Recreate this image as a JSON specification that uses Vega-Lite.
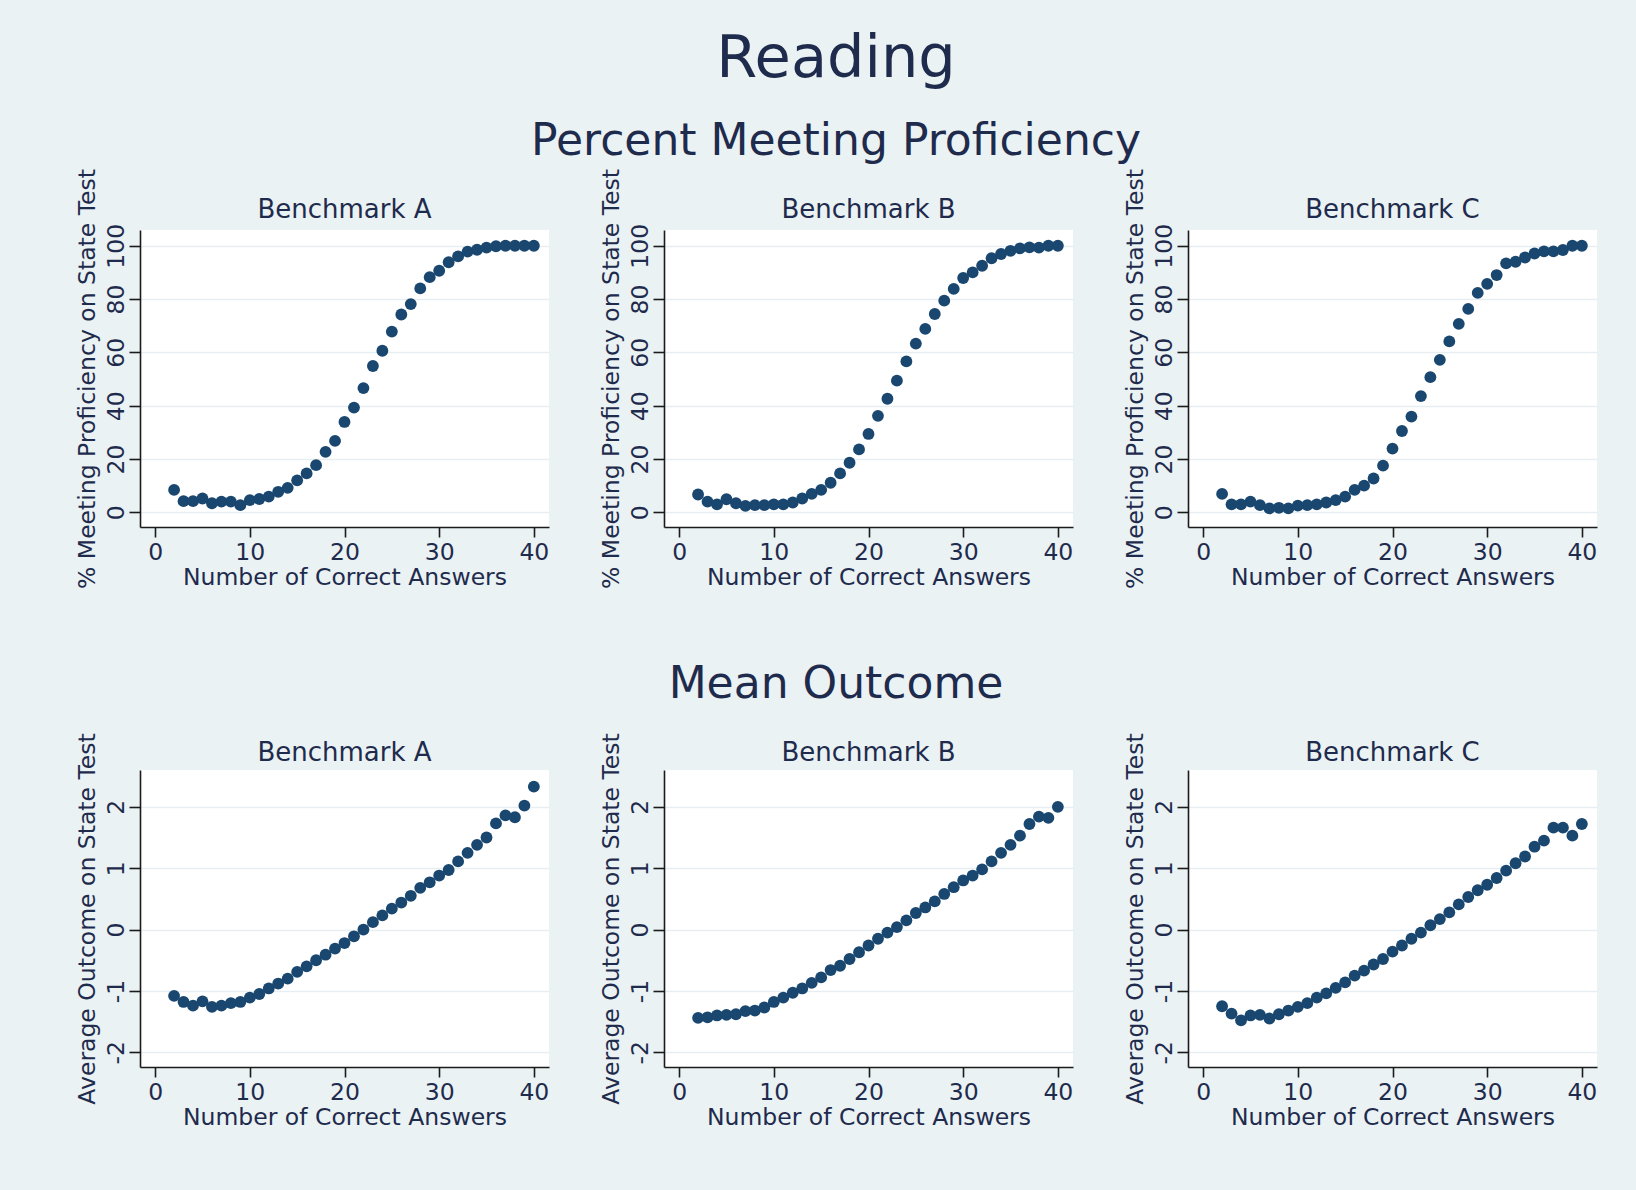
{
  "$schema": "https://vega.github.io/schema/vega-lite/v6.json",
  "background": "#EAF2F3",
  "padding": {"left": 74, "top": 29, "right": 42, "bottom": 79},
  "title": {"text": "Reading", "fontSize": 59, "font": "DejaVu Sans", "fontWeight": "normal", "color": "#1f2b4d", "offset": 31, "anchor": "middle"},
  "datasets": {
    "pctA": [
      {"x": 2, "y": 8.4}, {"x": 3, "y": 4.2}, {"x": 4, "y": 4.2}, {"x": 5, "y": 5.2}, {"x": 6, "y": 3.4}, {"x": 7, "y": 4.0}, {"x": 8, "y": 4.0}, {"x": 9, "y": 2.7}, {"x": 10, "y": 4.6}, {"x": 11, "y": 5.0},
      {"x": 12, "y": 5.9}, {"x": 13, "y": 7.7}, {"x": 14, "y": 9.2}, {"x": 15, "y": 12.0}, {"x": 16, "y": 14.6}, {"x": 17, "y": 17.7}, {"x": 18, "y": 22.7}, {"x": 19, "y": 26.8}, {"x": 20, "y": 33.9}, {"x": 21, "y": 39.3},
      {"x": 22, "y": 46.6}, {"x": 23, "y": 54.9}, {"x": 24, "y": 60.6}, {"x": 25, "y": 67.8}, {"x": 26, "y": 74.2}, {"x": 27, "y": 78.1}, {"x": 28, "y": 84.0}, {"x": 29, "y": 88.2}, {"x": 30, "y": 90.6}, {"x": 31, "y": 93.8},
      {"x": 32, "y": 96.0}, {"x": 33, "y": 97.8}, {"x": 34, "y": 98.5}, {"x": 35, "y": 99.3}, {"x": 36, "y": 99.8}, {"x": 37, "y": 100}, {"x": 38, "y": 100}, {"x": 39, "y": 100}, {"x": 40, "y": 100}
    ],
    "pctB": [
      {"x": 2, "y": 6.7}, {"x": 3, "y": 4.0}, {"x": 4, "y": 3.0}, {"x": 5, "y": 4.9}, {"x": 6, "y": 3.4}, {"x": 7, "y": 2.4}, {"x": 8, "y": 2.7}, {"x": 9, "y": 2.7}, {"x": 10, "y": 3.0}, {"x": 11, "y": 3.0},
      {"x": 12, "y": 3.7}, {"x": 13, "y": 5.2}, {"x": 14, "y": 6.9}, {"x": 15, "y": 8.4}, {"x": 16, "y": 11.1}, {"x": 17, "y": 14.6}, {"x": 18, "y": 18.6}, {"x": 19, "y": 23.6}, {"x": 20, "y": 29.4}, {"x": 21, "y": 36.2},
      {"x": 22, "y": 42.6}, {"x": 23, "y": 49.4}, {"x": 24, "y": 56.6}, {"x": 25, "y": 63.3}, {"x": 26, "y": 68.8}, {"x": 27, "y": 74.4}, {"x": 28, "y": 79.4}, {"x": 29, "y": 83.8}, {"x": 30, "y": 87.9}, {"x": 31, "y": 90.0},
      {"x": 32, "y": 92.5}, {"x": 33, "y": 95.3}, {"x": 34, "y": 96.9}, {"x": 35, "y": 98.1}, {"x": 36, "y": 99.0}, {"x": 37, "y": 99.4}, {"x": 38, "y": 99.3}, {"x": 39, "y": 100}, {"x": 40, "y": 100}
    ],
    "pctC": [
      {"x": 2, "y": 6.9}, {"x": 3, "y": 3.0}, {"x": 4, "y": 3.0}, {"x": 5, "y": 4.0}, {"x": 6, "y": 2.7}, {"x": 7, "y": 1.5}, {"x": 8, "y": 1.7}, {"x": 9, "y": 1.5}, {"x": 10, "y": 2.5}, {"x": 11, "y": 2.7},
      {"x": 12, "y": 3.0}, {"x": 13, "y": 3.7}, {"x": 14, "y": 4.6}, {"x": 15, "y": 5.9}, {"x": 16, "y": 8.4}, {"x": 17, "y": 10.0}, {"x": 18, "y": 12.7}, {"x": 19, "y": 17.5}, {"x": 20, "y": 23.9}, {"x": 21, "y": 30.5},
      {"x": 22, "y": 35.9}, {"x": 23, "y": 43.6}, {"x": 24, "y": 50.7}, {"x": 25, "y": 57.2}, {"x": 26, "y": 64.1}, {"x": 27, "y": 70.7}, {"x": 28, "y": 76.3}, {"x": 29, "y": 82.3}, {"x": 30, "y": 85.7}, {"x": 31, "y": 89.0},
      {"x": 32, "y": 93.4}, {"x": 33, "y": 94.0}, {"x": 34, "y": 95.6}, {"x": 35, "y": 97.1}, {"x": 36, "y": 97.9}, {"x": 37, "y": 97.9}, {"x": 38, "y": 98.4}, {"x": 39, "y": 100}, {"x": 40, "y": 100}
    ],
    "meanA": [
      {"x": 2, "y": -1.08}, {"x": 3, "y": -1.18}, {"x": 4, "y": -1.24}, {"x": 5, "y": -1.17}, {"x": 6, "y": -1.26}, {"x": 7, "y": -1.24}, {"x": 8, "y": -1.20}, {"x": 9, "y": -1.18}, {"x": 10, "y": -1.11}, {"x": 11, "y": -1.05},
      {"x": 12, "y": -0.96}, {"x": 13, "y": -0.88}, {"x": 14, "y": -0.80}, {"x": 15, "y": -0.69}, {"x": 16, "y": -0.60}, {"x": 17, "y": -0.50}, {"x": 18, "y": -0.41}, {"x": 19, "y": -0.31}, {"x": 20, "y": -0.22}, {"x": 21, "y": -0.11},
      {"x": 22, "y": 0.0}, {"x": 23, "y": 0.12}, {"x": 24, "y": 0.23}, {"x": 25, "y": 0.34}, {"x": 26, "y": 0.44}, {"x": 27, "y": 0.55}, {"x": 28, "y": 0.68}, {"x": 29, "y": 0.77}, {"x": 30, "y": 0.88}, {"x": 31, "y": 0.97},
      {"x": 32, "y": 1.11}, {"x": 33, "y": 1.25}, {"x": 34, "y": 1.38}, {"x": 35, "y": 1.50}, {"x": 36, "y": 1.73}, {"x": 37, "y": 1.86}, {"x": 38, "y": 1.83}, {"x": 39, "y": 2.02}, {"x": 40, "y": 2.33}
    ],
    "meanB": [
      {"x": 2, "y": -1.44}, {"x": 3, "y": -1.43}, {"x": 4, "y": -1.40}, {"x": 5, "y": -1.39}, {"x": 6, "y": -1.38}, {"x": 7, "y": -1.33}, {"x": 8, "y": -1.32}, {"x": 9, "y": -1.27}, {"x": 10, "y": -1.18}, {"x": 11, "y": -1.11},
      {"x": 12, "y": -1.03}, {"x": 13, "y": -0.96}, {"x": 14, "y": -0.87}, {"x": 15, "y": -0.78}, {"x": 16, "y": -0.66}, {"x": 17, "y": -0.59}, {"x": 18, "y": -0.48}, {"x": 19, "y": -0.37}, {"x": 20, "y": -0.26}, {"x": 21, "y": -0.15},
      {"x": 22, "y": -0.05}, {"x": 23, "y": 0.04}, {"x": 24, "y": 0.15}, {"x": 25, "y": 0.27}, {"x": 26, "y": 0.36}, {"x": 27, "y": 0.46}, {"x": 28, "y": 0.58}, {"x": 29, "y": 0.69}, {"x": 30, "y": 0.80}, {"x": 31, "y": 0.88},
      {"x": 32, "y": 0.98}, {"x": 33, "y": 1.11}, {"x": 34, "y": 1.25}, {"x": 35, "y": 1.38}, {"x": 36, "y": 1.53}, {"x": 37, "y": 1.72}, {"x": 38, "y": 1.84}, {"x": 39, "y": 1.82}, {"x": 40, "y": 2.00}
    ],
    "meanC": [
      {"x": 2, "y": -1.25}, {"x": 3, "y": -1.37}, {"x": 4, "y": -1.48}, {"x": 5, "y": -1.40}, {"x": 6, "y": -1.39}, {"x": 7, "y": -1.45}, {"x": 8, "y": -1.38}, {"x": 9, "y": -1.32}, {"x": 10, "y": -1.26}, {"x": 11, "y": -1.20},
      {"x": 12, "y": -1.11}, {"x": 13, "y": -1.04}, {"x": 14, "y": -0.95}, {"x": 15, "y": -0.86}, {"x": 16, "y": -0.75}, {"x": 17, "y": -0.67}, {"x": 18, "y": -0.57}, {"x": 19, "y": -0.48}, {"x": 20, "y": -0.36}, {"x": 21, "y": -0.26},
      {"x": 22, "y": -0.15}, {"x": 23, "y": -0.05}, {"x": 24, "y": 0.07}, {"x": 25, "y": 0.17}, {"x": 26, "y": 0.28}, {"x": 27, "y": 0.41}, {"x": 28, "y": 0.53}, {"x": 29, "y": 0.64}, {"x": 30, "y": 0.73}, {"x": 31, "y": 0.84},
      {"x": 32, "y": 0.96}, {"x": 33, "y": 1.08}, {"x": 34, "y": 1.19}, {"x": 35, "y": 1.35}, {"x": 36, "y": 1.45}, {"x": 37, "y": 1.66}, {"x": 38, "y": 1.66}, {"x": 39, "y": 1.53}, {"x": 40, "y": 1.72}
    ]
  },
  "spacing": 73,
  "vconcat": [
    {
      "title": {"text": "Percent Meeting Proficiency", "fontSize": 44, "font": "DejaVu Sans", "fontWeight": "normal", "color": "#1f2b4d", "offset": 5, "anchor": "middle"},
      "bounds": "flush",
      "spacing": 115,
      "hconcat": [
        {
          "width": 409, "height": 297,
          "title": {"text": "Benchmark A", "frame": "group", "offset": -54, "fontSize": 26, "font": "DejaVu Sans", "fontWeight": "normal", "color": "#1f2b4d"},
          "data": {"name": "pctA"},
          "mark": {"type": "circle", "size": 140, "color": "#1A476F", "opacity": 1},
          "encoding": {
            "x": {"field": "x", "type": "quantitative", "scale": {"domain": [-1.6, 41.6], "nice": false, "zero": false}, "axis": {"title": "Number of Correct Answers", "values": [0, 10, 20, 30, 40], "grid": false}},
            "y": {"field": "y", "type": "quantitative", "scale": {"domain": [-5.5, 105.9], "nice": false, "zero": false}, "axis": {"title": "% Meeting Proficiency on State Test", "values": [0, 20, 40, 60, 80, 100]}}
          }
        },
        {
          "width": 409, "height": 297,
          "title": {"text": "Benchmark B", "frame": "group", "offset": -54, "fontSize": 26, "font": "DejaVu Sans", "fontWeight": "normal", "color": "#1f2b4d"},
          "data": {"name": "pctB"},
          "mark": {"type": "circle", "size": 140, "color": "#1A476F", "opacity": 1},
          "encoding": {
            "x": {"field": "x", "type": "quantitative", "scale": {"domain": [-1.6, 41.6], "nice": false, "zero": false}, "axis": {"title": "Number of Correct Answers", "values": [0, 10, 20, 30, 40], "grid": false}},
            "y": {"field": "y", "type": "quantitative", "scale": {"domain": [-5.5, 105.9], "nice": false, "zero": false}, "axis": {"title": "% Meeting Proficiency on State Test", "values": [0, 20, 40, 60, 80, 100]}}
          }
        },
        {
          "width": 409, "height": 297,
          "title": {"text": "Benchmark C", "frame": "group", "offset": -54, "fontSize": 26, "font": "DejaVu Sans", "fontWeight": "normal", "color": "#1f2b4d"},
          "data": {"name": "pctC"},
          "mark": {"type": "circle", "size": 140, "color": "#1A476F", "opacity": 1},
          "encoding": {
            "x": {"field": "x", "type": "quantitative", "scale": {"domain": [-1.6, 41.6], "nice": false, "zero": false}, "axis": {"title": "Number of Correct Answers", "values": [0, 10, 20, 30, 40], "grid": false}},
            "y": {"field": "y", "type": "quantitative", "scale": {"domain": [-5.5, 105.9], "nice": false, "zero": false}, "axis": {"title": "% Meeting Proficiency on State Test", "values": [0, 20, 40, 60, 80, 100]}}
          }
        }
      ]
    },
    {
      "title": {"text": "Mean Outcome", "fontSize": 44, "font": "DejaVu Sans", "fontWeight": "normal", "color": "#1f2b4d", "offset": 26, "anchor": "middle"},
      "bounds": "flush",
      "spacing": 115,
      "hconcat": [
        {
          "width": 409, "height": 297,
          "title": {"text": "Benchmark A", "frame": "group", "offset": -33, "fontSize": 26, "font": "DejaVu Sans", "fontWeight": "normal", "color": "#1f2b4d"},
          "data": {"name": "meanA"},
          "mark": {"type": "circle", "size": 140, "color": "#1A476F", "opacity": 1},
          "encoding": {
            "x": {"field": "x", "type": "quantitative", "scale": {"domain": [-1.6, 41.6], "nice": false, "zero": false}, "axis": {"title": "Number of Correct Answers", "values": [0, 10, 20, 30, 40], "grid": false}},
            "y": {"field": "y", "type": "quantitative", "scale": {"domain": [-2.24, 2.6], "nice": false, "zero": false}, "axis": {"title": "Average Outcome on State Test", "values": [-2, -1, 0, 1, 2], "labelExpr": "datum.value < 0 ? '-' + abs(datum.value) : '' + datum.value"}}
          }
        },
        {
          "width": 409, "height": 297,
          "title": {"text": "Benchmark B", "frame": "group", "offset": -33, "fontSize": 26, "font": "DejaVu Sans", "fontWeight": "normal", "color": "#1f2b4d"},
          "data": {"name": "meanB"},
          "mark": {"type": "circle", "size": 140, "color": "#1A476F", "opacity": 1},
          "encoding": {
            "x": {"field": "x", "type": "quantitative", "scale": {"domain": [-1.6, 41.6], "nice": false, "zero": false}, "axis": {"title": "Number of Correct Answers", "values": [0, 10, 20, 30, 40], "grid": false}},
            "y": {"field": "y", "type": "quantitative", "scale": {"domain": [-2.24, 2.6], "nice": false, "zero": false}, "axis": {"title": "Average Outcome on State Test", "values": [-2, -1, 0, 1, 2], "labelExpr": "datum.value < 0 ? '-' + abs(datum.value) : '' + datum.value"}}
          }
        },
        {
          "width": 409, "height": 297,
          "title": {"text": "Benchmark C", "frame": "group", "offset": -33, "fontSize": 26, "font": "DejaVu Sans", "fontWeight": "normal", "color": "#1f2b4d"},
          "data": {"name": "meanC"},
          "mark": {"type": "circle", "size": 140, "color": "#1A476F", "opacity": 1},
          "encoding": {
            "x": {"field": "x", "type": "quantitative", "scale": {"domain": [-1.6, 41.6], "nice": false, "zero": false}, "axis": {"title": "Number of Correct Answers", "values": [0, 10, 20, 30, 40], "grid": false}},
            "y": {"field": "y", "type": "quantitative", "scale": {"domain": [-2.24, 2.6], "nice": false, "zero": false}, "axis": {"title": "Average Outcome on State Test", "values": [-2, -1, 0, 1, 2], "labelExpr": "datum.value < 0 ? '-' + abs(datum.value) : '' + datum.value"}}
          }
        }
      ]
    }
  ],
  "config": {
    "view": {"stroke": null, "fill": "white"},
    "axis": {
      "labelFont": "DejaVu Sans", "titleFont": "DejaVu Sans",
      "labelFontSize": 23.5, "titleFontSize": 23.5,
      "labelColor": "#1f2b4d", "titleColor": "#1f2b4d", "titleFontWeight": "normal",
      "domainColor": "#1b1b1b", "tickColor": "#1b1b1b", "domainWidth": 1.6, "tickWidth": 1.6,
      "tickSize": 10, "gridColor": "#E6EEF1", "gridWidth": 1.5,
      "labelFlush": false, "labelOverlap": false
    },
    "axisX": {"labelPadding": 3, "titlePadding": 2, "labelBaseline": "top"},
    "axisY": {"labelAngle": -90, "labelAlign": "center", "labelBaseline": "alphabetic", "labelPadding": 6, "titlePadding": 5, "tickSize": 11}
  }
}
